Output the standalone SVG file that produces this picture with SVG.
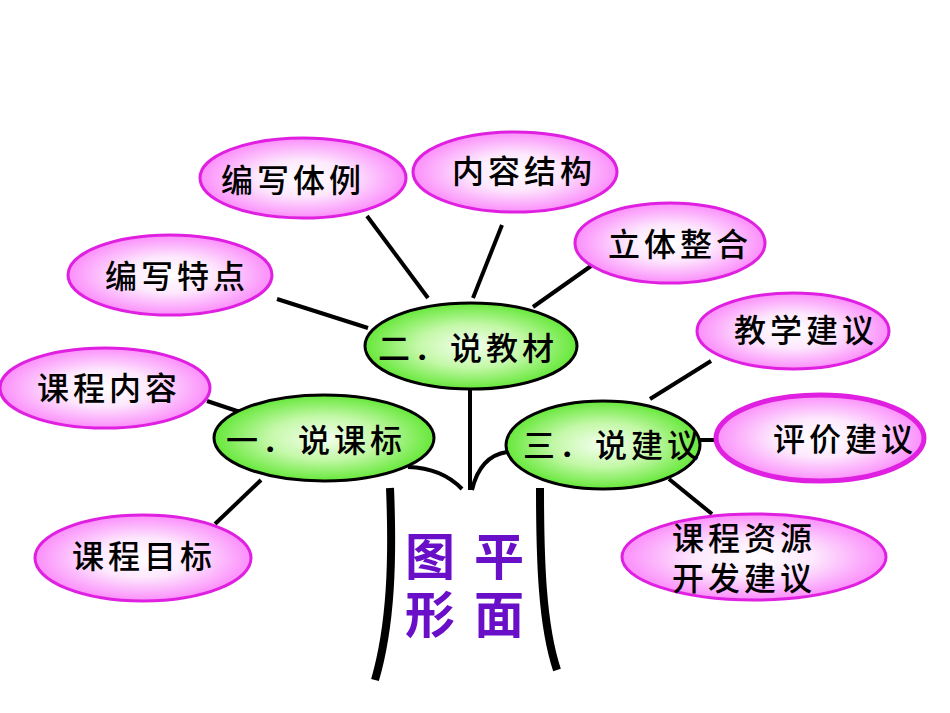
<svg xmlns="http://www.w3.org/2000/svg" width="950" height="713" viewBox="0 0 950 713">
<defs>
<radialGradient id="pink" cx="50%" cy="50%" r="50%">
<stop offset="0%" stop-color="#ffffff"/>
<stop offset="45%" stop-color="#fde8fd"/>
<stop offset="100%" stop-color="#fb8efb"/>
</radialGradient>
<radialGradient id="green" cx="50%" cy="50%" r="50%">
<stop offset="0%" stop-color="#f4fff0"/>
<stop offset="50%" stop-color="#c4f8a8"/>
<stop offset="100%" stop-color="#66e83a"/>
</radialGradient>
<style>
.p{fill:url(#pink);stroke:#e020e0;stroke-width:3}
.g{fill:url(#green);stroke:#000;stroke-width:3}
.t{font-family:"Noto Sans CJK SC","Noto Sans CJK TC",sans-serif;font-size:32px;font-weight:500;fill:#000;text-anchor:middle;dominant-baseline:central;letter-spacing:4px}
.big{font-family:"Noto Sans CJK SC",sans-serif;font-size:50px;font-weight:bold;fill:#6a0fc8;text-anchor:middle;dominant-baseline:central}
.c{fill:none;stroke:#000;stroke-width:4;stroke-linecap:butt}
.trunk{fill:none;stroke:#000;stroke-width:8}
</style>
</defs>
<rect width="950" height="713" fill="#fff"/>
<g id="connectors">
<line class="c" x1="367" y1="216" x2="428" y2="298"/>
<line class="c" x1="502" y1="225" x2="473" y2="298"/>
<line class="c" x1="591" y1="266" x2="533" y2="307"/>
<line class="c" x1="277" y1="299" x2="368" y2="328"/>
<line class="c" x1="207" y1="401" x2="240" y2="412"/>
<line class="c" x1="215" y1="524" x2="261" y2="480"/>
<line class="c" x1="650" y1="399" x2="711" y2="361"/>
<line class="c" x1="698" y1="440" x2="717" y2="440"/>
<line class="c" x1="669" y1="479" x2="712" y2="514"/>
<line class="c" x1="470" y1="388" x2="470" y2="490"/>
<path class="c" d="M408,467 Q442,468 462,489"/>
<path class="c" d="M507,452 Q480,456 472,490"/>
<path class="trunk" d="M390,488 C393,560 391,625 375,680"/>
<path class="trunk" d="M540,488 C540,560 542,625 557,670"/>
</g>
<g id="n-bianxietili"><ellipse class="p" cx="303" cy="178" rx="103" ry="40"/><text class="t" x="293" y="178">编写体例</text></g>
<g id="n-neirongjiegou"><ellipse class="p" cx="515" cy="172" rx="102" ry="40"/><text class="t" x="524" y="169">内容结构</text></g>
<g id="n-litizhenghe"><ellipse class="p" cx="670" cy="243" rx="95" ry="40"/><text class="t" x="680" y="242">立体整合</text></g>
<g id="n-bianxietedian"><ellipse class="p" cx="170" cy="275" rx="102" ry="40"/><text class="t" x="177" y="274">编写特点</text></g>
<g id="n-kechengneirong"><ellipse class="p" cx="105" cy="388" rx="105" ry="40"/><text class="t" x="109" y="386">课程内容</text></g>
<g id="n-jiaoxuejianyi"><ellipse class="p" cx="793" cy="331" rx="96" ry="38"/><text class="t" x="806" y="328">教学建议</text></g>
<g id="n-pingjiajianyi"><ellipse class="p" cx="820" cy="438" rx="104" ry="43" style="stroke-width:5"/><text class="t" x="845" y="437">评价建议</text></g>
<g id="n-kechengziyuan"><ellipse class="p" cx="754" cy="557" rx="132" ry="43"/><text class="t" x="744" y="536">课程资源</text><text class="t" x="744" y="576">开发建议</text></g>
<g id="n-kechengmubiao"><ellipse class="p" cx="143" cy="558" rx="108" ry="43"/><text class="t" x="144" y="554">课程目标</text></g>
<g id="n-shuojiaocai"><ellipse class="g" cx="471" cy="346" rx="106" ry="43"/><text class="t" x="468" y="346">二．说教材</text></g>
<g id="n-shuokebiao"><ellipse class="g" cx="324" cy="438" rx="110" ry="43"/><text class="t" x="316" y="438">一．说课标</text></g>
<g id="n-shuojianyi"><ellipse class="g" cx="603" cy="445" rx="97" ry="44"/><text class="t" x="613" y="443">三．说建议</text></g>
<g id="title">
<text class="big" x="430" y="553">图</text>
<text class="big" x="430" y="611">形</text>
<text class="big" x="499" y="553">平</text>
<text class="big" x="499" y="611">面</text>
</g>
</svg>
